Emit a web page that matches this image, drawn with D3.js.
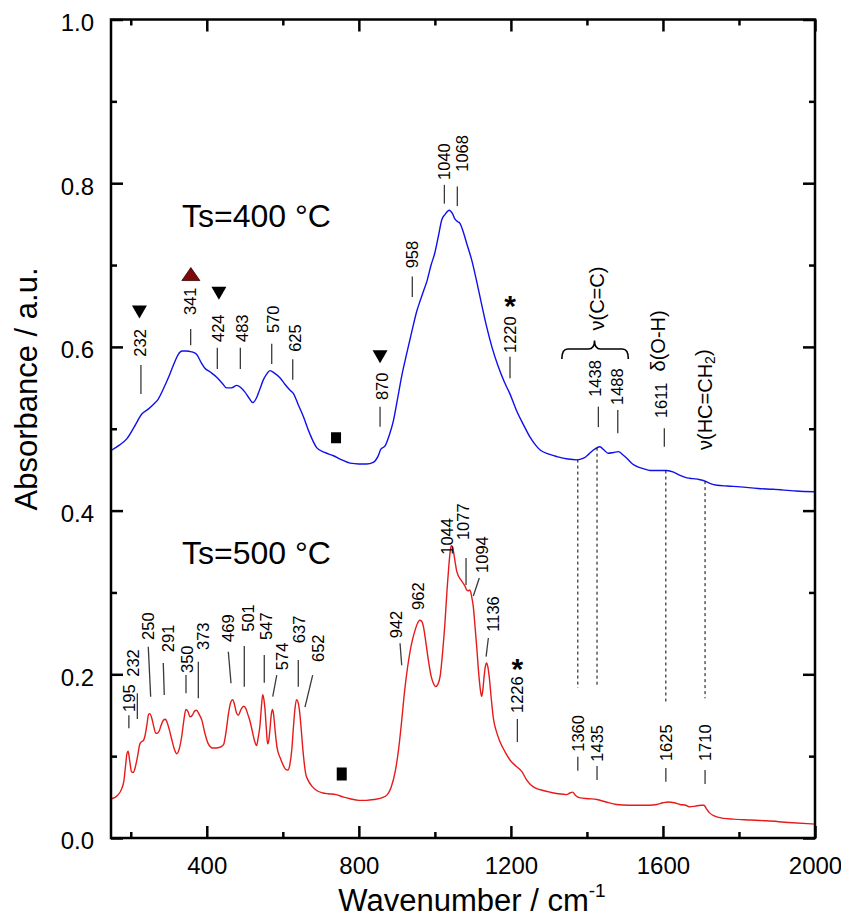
<!DOCTYPE html>
<html>
<head>
<meta charset="utf-8">
<script src="https://cdn.jsdelivr.net/npm/d3@7"></script>
<style>
  body { margin: 0; background: #fff; }
  text { font-family: "Liberation Sans", Arial, Helvetica, sans-serif; fill: #000; }
</style>
</head>
<body>
<svg id="chart" width="841" height="917"></svg>
<script>
// ---- Spectra: Ts = 400 °C (blue) ----
const ts400Wavenumber = [150,170,190,210,229,246,260,272,288,303,315,325,335,345,360,373,385,395,410,426,440,452,465,479,490,500,512,521,530,540,549,558,566,578,593,606,619,628,640,654,670,689,710,733,755,777,800,820,838,850,858,869,880,891,902,913,926,939,952,961,970,979,990,1000,1010,1018,1027,1038,1046,1053,1060,1066,1075,1084,1097,1110,1123,1136,1150,1166,1182,1198,1215,1233,1250,1265,1277,1300,1321,1350,1373,1391,1405,1417,1427,1434,1445,1456,1470,1483,1495,1505,1520,1531,1550,1566,1590,1610,1628,1645,1663,1680,1695,1711,1725,1742,1770,1803,1850,1890,1950,2000];
const ts400Absorbance = [0.474,0.480,0.488,0.503,0.518,0.524,0.530,0.536,0.551,0.567,0.581,0.591,0.595,0.595,0.594,0.591,0.581,0.574,0.569,0.563,0.556,0.550,0.550,0.553,0.550,0.545,0.537,0.532,0.537,0.549,0.560,0.567,0.571,0.568,0.562,0.554,0.547,0.543,0.530,0.515,0.495,0.477,0.471,0.467,0.462,0.458,0.457,0.457,0.459,0.466,0.475,0.479,0.492,0.510,0.537,0.565,0.592,0.618,0.643,0.656,0.668,0.680,0.700,0.715,0.737,0.755,0.762,0.767,0.763,0.756,0.753,0.751,0.740,0.726,0.706,0.680,0.652,0.625,0.600,0.577,0.558,0.542,0.522,0.505,0.490,0.480,0.474,0.469,0.466,0.463,0.462,0.464,0.469,0.474,0.477,0.478,0.474,0.470,0.471,0.472,0.468,0.464,0.457,0.454,0.451,0.449,0.449,0.449,0.447,0.443,0.440,0.439,0.438,0.436,0.433,0.431,0.430,0.429,0.427,0.426,0.424,0.423];

// ---- Spectra: Ts = 500 °C (red) ----
const ts500Wavenumber = [150,165,176,182,186,190,193,197,202,207,211,218,224,229,233,237,242,247,250,255,260,266,270,275,280,286,291,295,301,308,315,321,327,334,340,345,350,356,362,368,373,380,387,395,404,415,425,435,444,451,457,463,468,473,478,483,490,497,503,508,514,520,526,531,535,540,544,547,550,553,557,560,563,566,570,573,576,580,585,593,600,607,613,619,624,628,632,636,640,644,648,652,656,660,666,677,689,705,720,740,760,777,800,820,840,860,875,885,896,905,912,920,928,934,941,948,955,960,965,970,976,983,990,996,1002,1008,1014,1020,1027,1032,1036,1040,1043,1046,1049,1053,1057,1062,1066,1072,1079,1084,1088,1091,1094,1098,1101,1105,1110,1115,1120,1123,1126,1129,1133,1136,1139,1143,1148,1154,1162,1171,1185,1198,1213,1229,1240,1250,1265,1285,1303,1325,1347,1355,1362,1370,1382,1405,1426,1450,1478,1510,1540,1565,1584,1600,1614,1630,1645,1660,1671,1685,1700,1708,1714,1722,1735,1760,1785,1830,1873,1930,2000];
const ts500Absorbance = [0.048,0.052,0.060,0.070,0.087,0.103,0.106,0.095,0.081,0.080,0.085,0.100,0.115,0.118,0.119,0.124,0.137,0.151,0.152,0.147,0.137,0.128,0.128,0.131,0.138,0.144,0.145,0.142,0.133,0.120,0.108,0.103,0.108,0.124,0.145,0.157,0.155,0.148,0.150,0.155,0.156,0.151,0.144,0.128,0.115,0.110,0.110,0.111,0.114,0.131,0.152,0.166,0.169,0.163,0.153,0.150,0.157,0.161,0.158,0.151,0.142,0.130,0.118,0.113,0.122,0.138,0.162,0.175,0.170,0.158,0.131,0.115,0.119,0.132,0.152,0.157,0.150,0.130,0.110,0.098,0.090,0.084,0.083,0.091,0.110,0.136,0.158,0.169,0.166,0.155,0.135,0.112,0.093,0.079,0.071,0.063,0.058,0.055,0.054,0.053,0.050,0.048,0.046,0.046,0.047,0.049,0.053,0.062,0.082,0.110,0.140,0.178,0.208,0.226,0.242,0.254,0.263,0.266,0.265,0.258,0.240,0.217,0.198,0.189,0.185,0.188,0.198,0.225,0.266,0.303,0.328,0.349,0.357,0.356,0.350,0.338,0.327,0.320,0.317,0.313,0.308,0.303,0.302,0.303,0.301,0.292,0.283,0.262,0.234,0.203,0.180,0.173,0.180,0.195,0.210,0.214,0.210,0.197,0.172,0.146,0.130,0.118,0.105,0.095,0.088,0.081,0.072,0.066,0.061,0.058,0.056,0.054,0.053,0.055,0.056,0.052,0.049,0.048,0.047,0.044,0.041,0.040,0.040,0.040,0.041,0.043,0.044,0.043,0.041,0.040,0.038,0.039,0.040,0.040,0.036,0.031,0.027,0.024,0.023,0.022,0.021,0.019,0.017];

// ---- Peak labels (wavenumbers printed beside the bands) ----
const ts400Peaks = [232,341,424,483,570,625,870,958,1040,1068,1220,1438,1488,1611];
const ts500Peaks = [195,232,250,291,350,373,469,501,547,574,637,652,942,962,1044,1077,1094,1136,1226,1360,1435,1625,1710];

// Bands traced down from the upper to the lower spectrum
const linkedBands = [1360,1435,1625,1710];

// Axis ticks
const xMajorTicks = [400,800,1200,1600,2000];
const xMinorTicks = [200,600,1000,1400,1800];
const yMajorTicks = [0,0.2,0.4,0.6,0.8,1.0];
const yMinorTicks = [0.1,0.3,0.5,0.7,0.9];

// ---- Label layout: leader bottom/top dx, text dx (px), leader y0/y1 and text start (absorbance) ----
const ts400LabelLayout = [
  {lb:-2,lt:-2,tc:-3,y0:.5425,y1:.578,ty:.588},
  {lb:6.3,lt:6.3,tc:5.6,y0:.602,y1:.622,ty:.639},
  {lb:1.4,lt:1.4,tc:2.4,y0:.573,y1:.599,ty:.606},
  {lb:2,lt:2,tc:3.4,y0:.573,y1:.599,ty:.606},
  {lb:.3,lt:.3,tc:1.9,y0:.579,y1:.604,ty:.617},
  {lb:.4,lt:.4,tc:2.7,y0:.560,y1:.585,ty:.594},
  {lb:-5.4,lt:-5.4,tc:-3.7,y0:.5025,y1:.527,ty:.535},
  {lb:-6.6,lt:-6.6,tc:-6.6,y0:.661,y1:.686,ty:.696},
  {lb:-5.7,lt:-5.7,tc:-5.7,y0:.775,y1:.798,ty:.804},
  {lb:-3.4,lt:-3.4,tc:1,y0:.772,y1:.796,ty:.814},
  {lb:-8.5,lt:-8.5,tc:-8.5,y0:.5616,y1:.588,ty:.5925},
  {lb:-3,lt:-3,tc:-6,y0:.502,y1:.527,ty:.539},
  {lb:-2.6,lt:-2.6,tc:-3.6,y0:.4944,y1:.523,ty:.529},
  {lb:-2.8,lt:-2.8,tc:-6,y0:.478,y1:.5006,ty:.513}
];
const ts500LabelLayout = [
  {lb:0,lt:0,tc:.4,y0:.134,y1:.150,ty:.154},
  {lb:-5.6,lt:-5.6,tc:-9.6,y0:.1454,y1:.177,ty:.197},
  {lb:.9,lt:-1.5,tc:-2.1,y0:.1726,y1:.2337,ty:.242},
  {lb:-1.1,lt:-2.1,tc:2.9,y0:.1747,y1:.2138,ty:.227},
  {lb:-1.8,lt:-1.8,tc:-.5,y0:.177,y1:.199,ty:.2016},
  {lb:1.8,lt:1.8,tc:6.2,y0:.1707,y1:.2154,ty:.2297},
  {lb:-2,lt:-4.7,tc:-4.7,y0:.189,y1:.2276,ty:.2395},
  {lb:-.9,lt:-.9,tc:3.1,y0:.1849,y1:.2346,ty:.252},
  {lb:1.6,lt:1.6,tc:3.3,y0:.1897,y1:.2236,ty:.242},
  {lb:-.2,lt:3.8,tc:8.8,y0:.1726,y1:.199,ty:.205},
  {lb:1.4,lt:1.4,tc:2.4,y0:.1849,y1:.2175,ty:.238},
  {lb:2.4,lt:10.1,tc:15.7,y0:.160,y1:.199,ty:.215},
  {lb:-11.1,lt:-12.8,tc:-16.8,y0:.211,y1:.238,ty:.244},
  {tc:-2.7,ty:.2786},
  {tc:-4.9,ty:.346},
  {lb:1.9,lt:1.9,tc:-1.1,y0:.309,y1:.342,ty:.364},
  {lb:2.7,lt:8.7,tc:11.1,y0:.2957,y1:.3177,ty:.3238},
  {lb:-.5,lt:1.8,tc:6.8,y0:.2215,y1:.2443,ty:.252},
  {lb:-3.4,lt:-3.4,tc:-3.4,y0:.1173,y1:.1454,ty:.1527},
  {lb:6.1,lt:6.1,tc:6.1,y0:.0822,y1:.0993,ty:.1054},
  {lb:-3.2,lt:-3.2,tc:-3.2,y0:.0709,y1:.088,ty:.0932},
  {lb:-6.6,lt:-6.6,tc:-6.6,y0:.0688,y1:.0855,ty:.094},
  {lb:.3,lt:.3,tc:.3,y0:.066,y1:.083,ty:.094}
];
const linkedBandLayout = [
  {dx:6.1,bottom:.1833},
  {dx:-3.2,bottom:.1849},
  {dx:-6.6,bottom:.1665},
  {dx:.3,bottom:.1707}
];

// ---- Scales ----
const svg = d3.select("#chart");
const plot = {left:111, right:815, top:19.5, bottom:838};
const x = d3.scaleLinear().domain([148,2000]).range([plot.left, plot.right]);
const y = d3.scaleLinear().domain([0,1]).range([plot.bottom, plot.top]);

const AXIS_W = 2.5;
const clipId = "plot-clip";
svg.append("defs").append("clipPath").attr("id", clipId)
  .append("rect").attr("x", plot.left).attr("y", plot.top)
  .attr("width", plot.right - plot.left).attr("height", plot.bottom - plot.top);

// ---- Spectra ----
const line = d3.line().x(d => x(d[0])).y(d => y(d[1])).curve(d3.curveMonotoneX);
const ts400 = d3.zip(ts400Wavenumber, ts400Absorbance);
const ts500 = d3.zip(ts500Wavenumber, ts500Absorbance);

const curves = svg.append("g").attr("clip-path", `url(#${clipId})`);
curves.append("path").datum(ts400).attr("d", line)
  .attr("fill", "none").attr("stroke", "#1010ea").attr("stroke-width", 1.4);
curves.append("path").datum(ts500).attr("d", line)
  .attr("fill", "none").attr("stroke", "#e61a1a").attr("stroke-width", 1.4);

// interpolated absorbance of a spectrum at a given wavenumber
function absorbanceAt(wn, ws, as) {
  const i = Math.max(1, Math.min(ws.length - 1, d3.bisectLeft(ws, wn)));
  const t = (wn - ws[i-1]) / (ws[i] - ws[i-1]);
  return as[i-1] + t * (as[i] - as[i-1]);
}

// ---- Dashed guide lines linking bands of both spectra ----
const guides = svg.append("g");
linkedBands.forEach((wn, i) => {
  const L = linkedBandLayout[i];
  const px = x(wn) + L.dx;
  const topWn = x.invert(px);
  guides.append("line")
    .attr("x1", px).attr("x2", px)
    .attr("y1", y(absorbanceAt(topWn, ts400Wavenumber, ts400Absorbance)))
    .attr("y2", y(L.bottom))
    .attr("stroke", "#000").attr("stroke-width", 1).attr("stroke-dasharray", "3,3");
});

// ---- Peak labels ----
const LABEL_FS = 16.5;
function drawPeakLabels(peaks, layout) {
  const g = svg.append("g");
  peaks.forEach((wn, i) => {
    const L = layout[i];
    const cx = x(wn);
    if (L.y0 !== undefined) {
      g.append("line")
        .attr("x1", cx + L.lb).attr("y1", y(L.y0))
        .attr("x2", cx + L.lt).attr("y2", y(L.y1))
        .attr("stroke", "#3a3a3a").attr("stroke-width", 1.3);
    }
    g.append("text")
      .attr("transform", `translate(${cx + L.tc},${y(L.ty)}) rotate(-90)`)
      .attr("text-anchor", "start")
      .attr("dominant-baseline", "central")
      .attr("font-size", LABEL_FS)
      .text(wn);
  });
}
drawPeakLabels(ts400Peaks, ts400LabelLayout);
drawPeakLabels(ts500Peaks, ts500LabelLayout);

// ---- Band assignments ----
const notes = svg.append("g");
function rotatedNote(px, yb, fs) {
  return notes.append("text")
    .attr("transform", `translate(${px},${y(yb)}) rotate(-90)`)
    .attr("text-anchor", "start")
    .attr("dominant-baseline", "central")
    .attr("font-size", fs);
}
rotatedNote(x(1611) - 8.8, 0.570, 20).text("δ(O-H)");
const vinyl = rotatedNote(x(1710) + 0.3, 0.474, 20);
vinyl.append("tspan").text("ν(HC=CH");
vinyl.append("tspan").attr("font-size", 14).attr("dy", "0.35em").text("2");
vinyl.append("tspan").attr("dy", "-0.35em").text(")");
rotatedNote(x(1420) + 2, 0.620, 20).text("ν(C=C)");

// curly brace grouping the 1438 / 1488 bands
{
  const xl = x(1334), xr = x(1509), xm = x(1420);
  const yt = y(0.5853), yb = y(0.5975), yc = y(0.6078);
  const r = 6;
  const d = `M${xl},${yt} Q${xl},${yb} ${xl + r},${yb} L${xm - r},${yb} Q${xm},${yb} ${xm},${yc}`
          + ` Q${xm},${yb} ${xm + r},${yb} L${xr - r},${yb} Q${xr},${yb} ${xr},${yt}`;
  notes.append("path").attr("d", d).attr("fill", "none")
    .attr("stroke", "#000").attr("stroke-width", 1.6);
}

// ---- Band markers ----
const markers = svg.append("g");
function triangle(px, py, w, h, down, fill) {
  const s = down ? 1 : -1;
  markers.append("path")
    .attr("d", `M${px - w/2},${py - s*h/2} L${px + w/2},${py - s*h/2} L${px},${py + s*h/2} Z`)
    .attr("fill", fill).attr("stroke", down ? "none" : "#3a0000").attr("stroke-width", 0.8);
}
triangle(x(232) - 3.5, y(0.6426), 15, 13, true, "#000");
triangle(x(341) + 6.5, y(0.6890), 18, 13, false, "#7d0a0a");
triangle(x(424) + 3, y(0.6654), 15, 13, true, "#000");
triangle(x(870) - 5.4, y(0.5880), 15, 13, true, "#000");
markers.append("rect").attr("x", x(740) - 5).attr("y", y(0.4890) - 5.5).attr("width", 10).attr("height", 11).attr("fill", "#000");
markers.append("rect").attr("x", x(755) - 5).attr("y", y(0.0782) - 6.5).attr("width", 10).attr("height", 13).attr("fill", "#000");
function star(px, a) {
  markers.append("text").attr("x", px).attr("y", y(a) + 17)
    .attr("text-anchor", "middle").attr("font-size", 30).attr("font-weight", "bold").text("*");
}
star(x(1220) - 8.5, 0.6582);
star(x(1226) - 3.4, 0.2154);

// ---- Series titles ----
svg.append("text").attr("x", x(335)).attr("y", y(0.7465)).attr("font-size", 32).text("Ts=400 °C");
svg.append("text").attr("x", x(335)).attr("y", y(0.3348)).attr("font-size", 32).text("Ts=500 °C");

// ---- Axes (ticks point inward, mirrored on all four sides) ----
function styleAxis(g) {
  g.select(".domain").remove();
  g.selectAll(".tick line").attr("stroke", "#000").attr("stroke-width", AXIS_W);
  g.selectAll(".tick text").attr("font-family", null);
}
svg.append("g").attr("transform", `translate(0,${plot.bottom})`)
  .call(d3.axisBottom(x).tickValues(xMajorTicks).tickSize(-12).tickPadding(19).tickFormat(d3.format("d")))
  .call(styleAxis).call(g => g.selectAll(".tick text").attr("font-size", 24));
svg.append("g").attr("transform", `translate(0,${plot.bottom})`)
  .call(d3.axisBottom(x).tickValues(xMinorTicks).tickSize(-6).tickFormat(""))
  .call(styleAxis);
svg.append("g").attr("transform", `translate(0,${plot.top})`)
  .call(d3.axisTop(x).tickValues(xMajorTicks).tickSize(-12).tickFormat(""))
  .call(styleAxis);
svg.append("g").attr("transform", `translate(0,${plot.top})`)
  .call(d3.axisTop(x).tickValues(xMinorTicks).tickSize(-6).tickFormat(""))
  .call(styleAxis);
svg.append("g").attr("transform", `translate(${plot.left},0)`)
  .call(d3.axisLeft(y).tickValues(yMajorTicks).tickSize(-12).tickPadding(17).tickFormat(d3.format(".1f")))
  .call(styleAxis).call(g => g.selectAll(".tick text").attr("font-size", 24).attr("dy", "0.45em"));
svg.append("g").attr("transform", `translate(${plot.left},0)`)
  .call(d3.axisLeft(y).tickValues(yMinorTicks).tickSize(-6).tickFormat(""))
  .call(styleAxis);
svg.append("g").attr("transform", `translate(${plot.right},0)`)
  .call(d3.axisRight(y).tickValues(yMajorTicks).tickSize(-12).tickFormat(""))
  .call(styleAxis);
svg.append("g").attr("transform", `translate(${plot.right},0)`)
  .call(d3.axisRight(y).tickValues(yMinorTicks).tickSize(-6).tickFormat(""))
  .call(styleAxis);

svg.append("rect")
  .attr("x", plot.left).attr("y", plot.top)
  .attr("width", plot.right - plot.left).attr("height", plot.bottom - plot.top)
  .attr("fill", "none").attr("stroke", "#000").attr("stroke-width", AXIS_W);

// ---- Axis titles ----
const xTitle = svg.append("text")
  .attr("x", (plot.left + plot.right) / 2 + 9).attr("y", 911)
  .attr("text-anchor", "middle").attr("font-size", 31);
xTitle.append("tspan").text("Wavenumber / cm");
xTitle.append("tspan").attr("font-size", 19).attr("dy", "-0.75em").text("-1");

svg.append("text")
  .attr("transform", `translate(37,389) rotate(-90)`)
  .attr("text-anchor", "middle").attr("font-size", 31)
  .text("Absorbance / a.u.");
</script>
</body>
</html>
